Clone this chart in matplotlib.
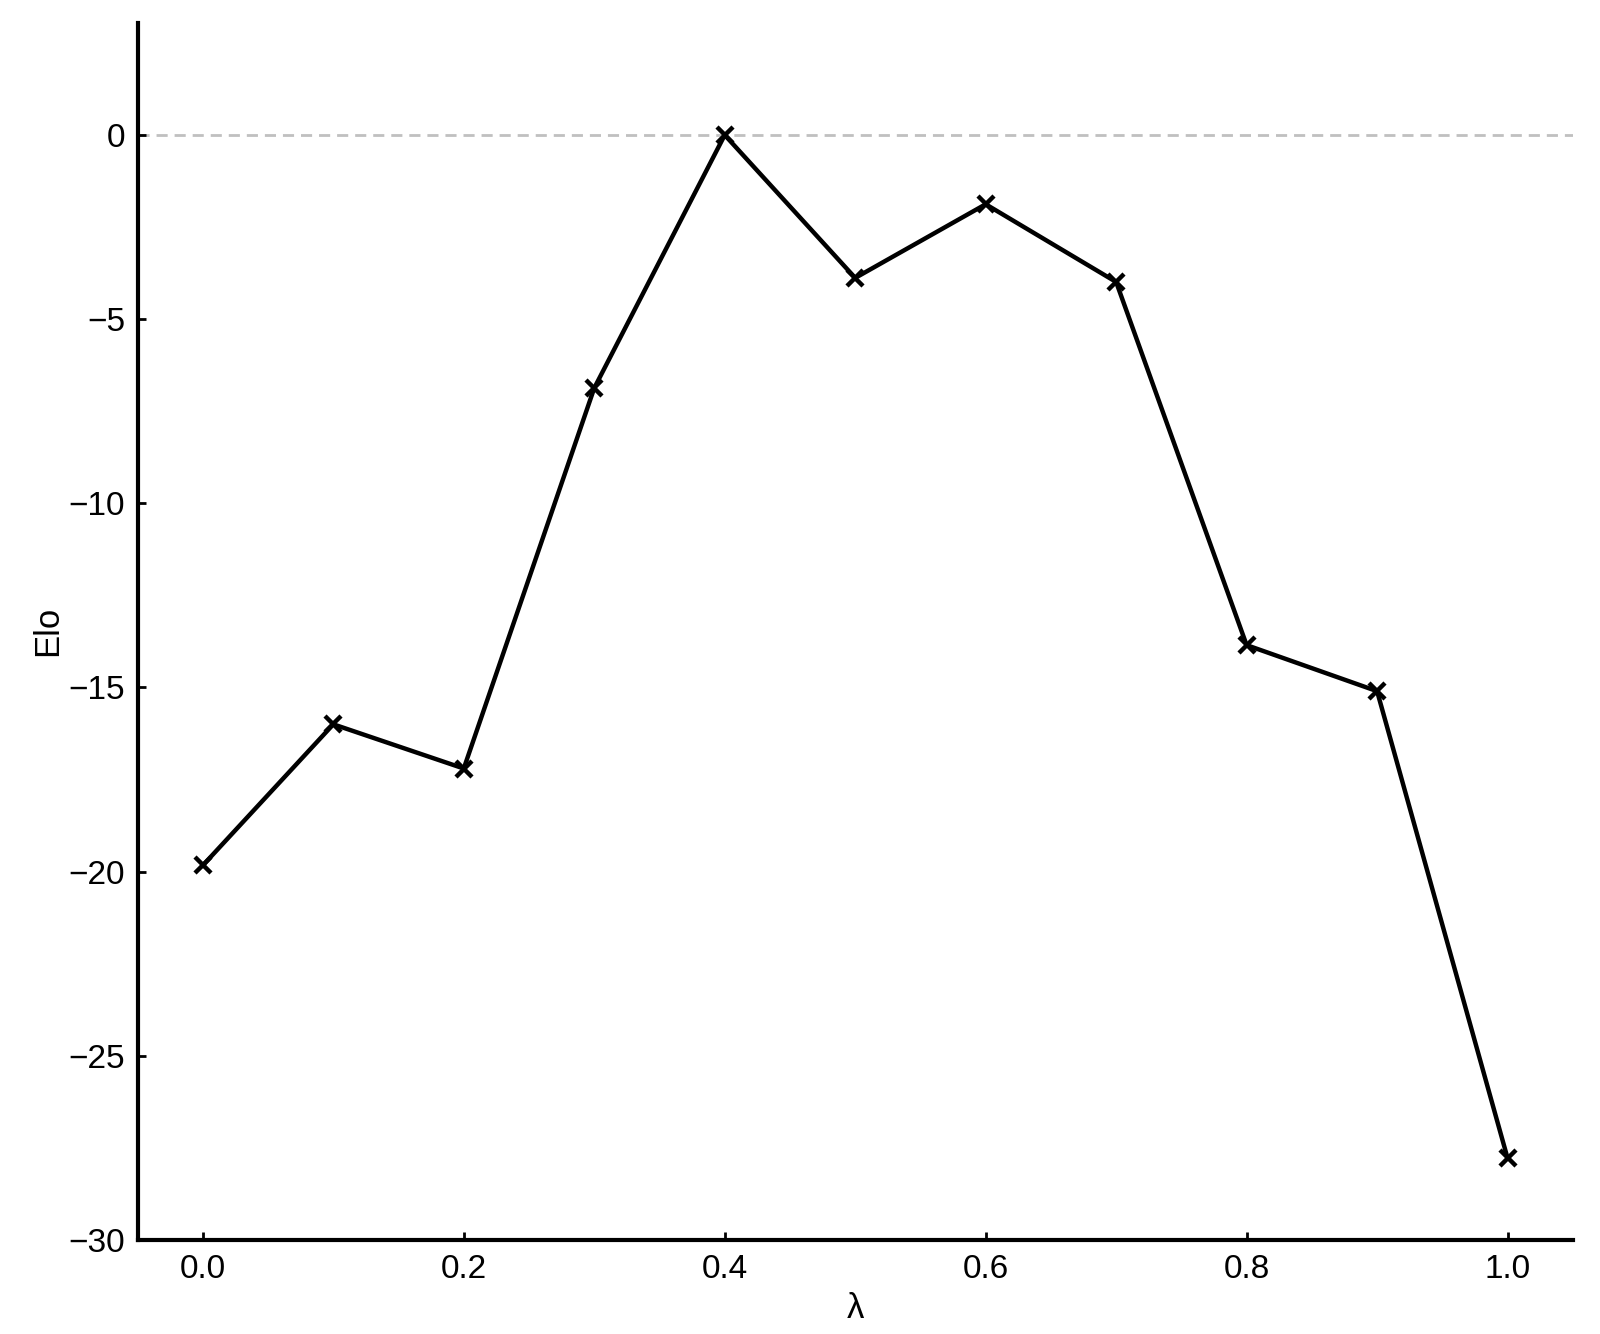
import matplotlib
matplotlib.use("Agg")
import matplotlib.pyplot as plt

plt.rcParams['font.family'] = ['Liberation Sans', 'DejaVu Sans']

lam = [0.0, 0.1, 0.2, 0.3, 0.4, 0.5, 0.6, 0.7, 0.8, 0.9, 1.0]
elo = [-19.83, -16.0, -17.2, -6.87, 0.0, -3.88, -1.88, -3.99, -13.85, -15.1, -27.78]
xticks = [0.0, 0.2, 0.4, 0.6, 0.8, 1.0]
yticks = [-30, -25, -20, -15, -10, -5, 0]

fig = plt.figure(figsize=(8, 6.67), dpi=200)
ax = fig.add_axes([0.086, 0.0705, 0.897, 0.9125])

ax.axhline(0, color='#c0c0c0', linestyle='--', linewidth=1.0, dashes=(4, 2.5), zorder=1)
ax.plot(lam, elo, color='black', linewidth=1.6, marker='x', markersize=5.5,
        markeredgewidth=1.6, zorder=3)

ax.set_xlim(-0.05, 1.05)
ax.set_ylim(-30, 3.05)
ax.set_xticks(xticks)
ax.set_xticklabels([f"{t:.1f}" for t in xticks])
ax.set_yticks(yticks)
ax.set_yticklabels([f"\u2212{abs(t)}" if t < 0 else f"{t}" for t in yticks])

for s in ['top', 'right']:
    ax.spines[s].set_visible(False)
for s in ['left', 'bottom']:
    ax.spines[s].set_linewidth(1.5)

ax.tick_params(direction='in', length=3, width=1, labelsize=12)
ax.tick_params(axis='x', pad=5)
ax.tick_params(axis='y', pad=4.5)
ax.set_xlabel('λ', fontsize=12.5, labelpad=2.5)
ax.set_ylabel('Elo', fontsize=12.5, labelpad=1.5)

fig.savefig('out.png', dpi=200)
